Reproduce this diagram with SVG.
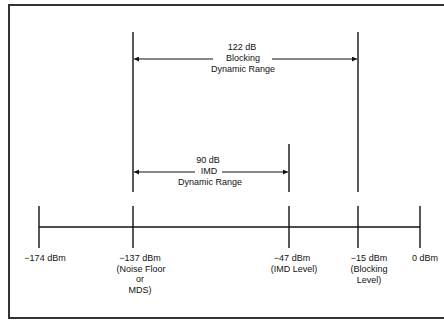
<svg xmlns="http://www.w3.org/2000/svg" width="444" height="320" viewBox="0 0 444 320">
<defs>
<marker id="ah" viewBox="0 0 10 10" refX="10" refY="5" markerWidth="7" markerHeight="5" markerUnits="userSpaceOnUse" orient="auto-start-reverse">
<path d="M0,0 L10,5 L0,10 Z" fill="#111"/>
</marker>
</defs>
<style>
.ln{stroke:#111;stroke-width:1.4;fill:none}
.ar{stroke:#111;stroke-width:1.1;fill:none}
text{font-family:"Liberation Sans",Arial,sans-serif;font-size:9px;fill:#111;text-anchor:middle}
</style>
<rect x="0" y="0" width="444" height="320" fill="#fff"/>
<rect x="9" y="5" width="440" height="313" fill="none" stroke="#333" stroke-width="2"/>
<g id="connectors">
<line class="ln" x1="39" y1="227" x2="420" y2="227"/>
<line class="ln" x1="39" y1="206" x2="39" y2="248"/>
<line class="ln" x1="133" y1="206" x2="133" y2="248"/>
<line class="ln" x1="289" y1="206" x2="289" y2="248"/>
<line class="ln" x1="358" y1="206" x2="358" y2="248"/>
<line class="ln" x1="420" y1="206" x2="420" y2="248"/>
<line class="ln" x1="133" y1="32" x2="133" y2="192"/>
<line class="ln" x1="358" y1="32" x2="358" y2="192"/>
<line class="ln" x1="289" y1="144" x2="289" y2="192"/>
<line class="ar" x1="213" y1="59" x2="134" y2="59" marker-end="url(#ah)"/>
<line class="ar" x1="272" y1="59" x2="357" y2="59" marker-end="url(#ah)"/>
<line class="ar" x1="195" y1="172" x2="134" y2="172" marker-end="url(#ah)"/>
<line class="ar" x1="222" y1="172" x2="288" y2="172" marker-end="url(#ah)"/>
</g>
<g id="blocking-range">
<text x="242" y="50">122 dB</text>
<text x="243" y="61">Blocking</text>
<text x="243" y="72">Dynamic Range</text>
</g>
<g id="imd-range">
<text x="208" y="163">90 dB</text>
<text x="209" y="174">IMD</text>
<text x="210" y="185">Dynamic Range</text>
</g>
<g id="tick-174">
<text x="45" y="261">−174 dBm</text>
</g>
<g id="tick-137">
<text x="140" y="261">−137 dBm</text>
<text x="141" y="272">(Noise Floor</text>
<text x="140" y="282">or</text>
<text x="140" y="293">MDS)</text>
</g>
<g id="tick-47">
<text x="292" y="261">−47 dBm</text>
<text x="294" y="272">(IMD Level)</text>
</g>
<g id="tick-15">
<text x="369" y="261">−15 dBm</text>
<text x="369" y="272">(Blocking</text>
<text x="369" y="283">Level)</text>
</g>
<g id="tick-0">
<text x="425" y="261">0 dBm</text>
</g>
</svg>
